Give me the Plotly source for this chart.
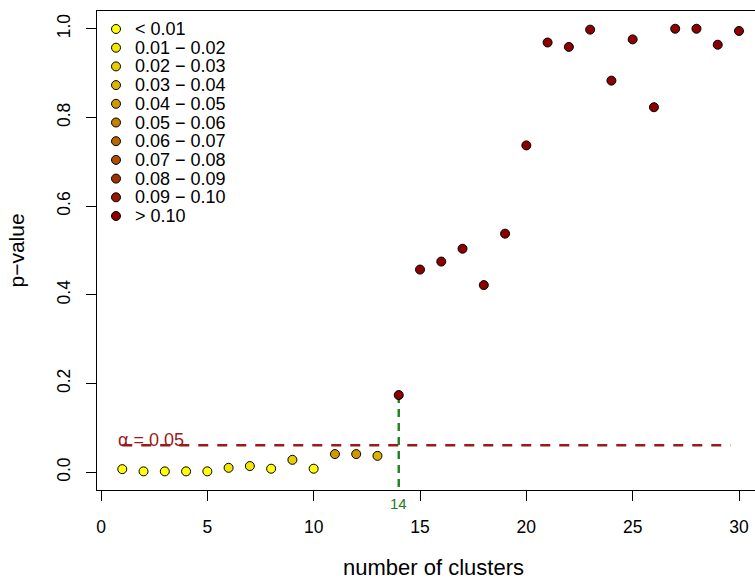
import plotly.graph_objects as go

# ---------------- data ----------------
clusters = list(range(1, 31))
p_values = [0.007, 0.002, 0.002, 0.002, 0.002, 0.010, 0.014, 0.008, 0.028, 0.008,
            0.041, 0.041, 0.037, 0.174, 0.457, 0.475, 0.504, 0.422, 0.538, 0.737,
            0.969, 0.959, 0.998, 0.883, 0.976, 0.823, 1.000, 1.000, 0.964, 0.995]
bin_labels = ["< 0.01", "0.01 \u2212 0.02", "0.02 \u2212 0.03", "0.03 \u2212 0.04",
              "0.04 \u2212 0.05", "0.05 \u2212 0.06", "0.06 \u2212 0.07", "0.07 \u2212 0.08",
              "0.08 \u2212 0.09", "0.09 \u2212 0.10", "> 0.10"]
x_ticks = [0, 5, 10, 15, 20, 25, 30]
y_ticks = [0.0, 0.2, 0.4, 0.6, 0.8, 1.0]
y_tick_labels = ["0.0", "0.2", "0.4", "0.6", "0.8", "1.0"]
alpha_label = "\u03b1 = 0.05"
alpha_line_level = 0.061
selected_k = 14

# ---------------- styling ----------------
FONT = "Liberation Sans, Arial, Helvetica, sans-serif"
RED = "#9B1B1B"
GREEN = "#1E801E"


def ramp(i, n):
    # yellow -> darkred
    t = i / (n - 1)
    r = round(255 + (139 - 255) * t)
    g = round(255 + (0 - 255) * t)
    return f"rgb({r},{g},0)"


bin_colors = [ramp(i, len(bin_labels)) for i in range(len(bin_labels))]


def bin_index(p):
    return min(int(p / 0.01), len(bin_labels) - 1)


point_colors = [bin_colors[bin_index(p)] for p in p_values]

W, H = 755, 579
L, T, B, R = 97, 11, 89, 0
PW, PH = W - L - R, H - T - B
unit = 21.267
x_range = [-4 / unit, (W - 101) / unit]
y_range = [-0.04, 1.04]


def px_to_paper_y(py):
    return (H - B - py) / PH


def px_to_paper_x(px):
    return (px - L) / PW


fig = go.Figure()

# alpha reference line
fig.add_trace(go.Scatter(
    x=[min(clusters), max(clusters) - 0.4], y=[alpha_line_level, alpha_line_level],
    mode="lines", line=dict(color=RED, width=2.5, dash="10px,9px"),
    hoverinfo="skip", showlegend=False))

# selected k vertical line
sel_p = p_values[clusters.index(selected_k)]
fig.add_trace(go.Scatter(
    x=[selected_k, selected_k], y=[sel_p, y_range[0]],
    mode="lines", line=dict(color=GREEN, width=2.4, dash="8px,6px"),
    hoverinfo="skip", showlegend=False, cliponaxis=False))

# points
fig.add_trace(go.Scatter(
    x=clusters, y=p_values, mode="markers",
    marker=dict(size=9, color=point_colors, line=dict(color="black", width=1)),
    showlegend=False, cliponaxis=False))

# manual legend on pixel-overlay axes
leg_x = 116
leg_y0 = 29
leg_dy = 18.7
leg_ys = [leg_y0 + leg_dy * i for i in range(len(bin_labels))]
fig.add_trace(go.Scatter(
    x=[leg_x] * len(bin_labels), y=leg_ys, mode="markers",
    marker=dict(size=9, color=bin_colors, line=dict(color="black", width=1)),
    xaxis="x2", yaxis="y2", showlegend=False, hoverinfo="skip"))

annotations = []
for lab, yy in zip(bin_labels, leg_ys):
    annotations.append(dict(x=133, y=yy, xref="x2", yref="y2", text=lab,
                            showarrow=False, xanchor="left", yanchor="middle",
                            font=dict(family=FONT, size=18, color="black")))

annotations.append(dict(x=0.72, y=alpha_line_level + 0.0115, xref="x", yref="y",
                        text=alpha_label, showarrow=False, xanchor="left",
                        yanchor="middle",
                        font=dict(family=FONT, size=18, color=RED)))
annotations.append(dict(x=selected_k, y=px_to_paper_y(503), xref="x", yref="paper",
                        text=str(selected_k), showarrow=False,
                        xanchor="center", yanchor="middle",
                        font=dict(family=FONT, size=15, color=GREEN)))
annotations.append(dict(x=px_to_paper_x(433), y=px_to_paper_y(567),
                        xref="paper", yref="paper", text="number of clusters",
                        showarrow=False, xanchor="center", yanchor="middle",
                        font=dict(family=FONT, size=22, color="black")))
annotations.append(dict(x=px_to_paper_x(16), y=0.5, xref="paper", yref="paper",
                        text="p\u2212value", textangle=-90, showarrow=False,
                        xanchor="center", yanchor="middle",
                        font=dict(family=FONT, size=21, color="black")))

fig.update_layout(
    width=W, height=H,
    margin=dict(l=L, r=R, t=T, b=B, pad=0),
    paper_bgcolor="white", plot_bgcolor="white",
    font=dict(family=FONT, size=17, color="black"),
    xaxis=dict(range=x_range, tickvals=x_ticks, ticks="outside", ticklen=10,
               tickcolor="black", showline=True, linecolor="black", linewidth=1,
               mirror=True, showgrid=False, zeroline=False,
               tickfont=dict(family=FONT, size=17.5, color="black"),
               ticklabelstandoff=11),
    yaxis=dict(range=y_range, tickvals=y_ticks, ticktext=y_tick_labels,
               ticks="outside", ticklen=10, tickcolor="black", showline=True,
               linecolor="black", linewidth=1, showgrid=False, zeroline=False,
               tickangle=-90, tickfont=dict(family=FONT, size=17.5, color="black"),
               ticklabelstandoff=9),
    xaxis2=dict(range=[L, W - R], overlaying="x", visible=False, fixedrange=True),
    yaxis2=dict(range=[H - B, T], overlaying="y", visible=False, fixedrange=True),
    annotations=annotations,
    showlegend=False,
)

fig.write_html("out.html", config={"displayModeBar": False},
               post_script="document.body.style.margin='0';document.body.style.overflow='hidden';")
